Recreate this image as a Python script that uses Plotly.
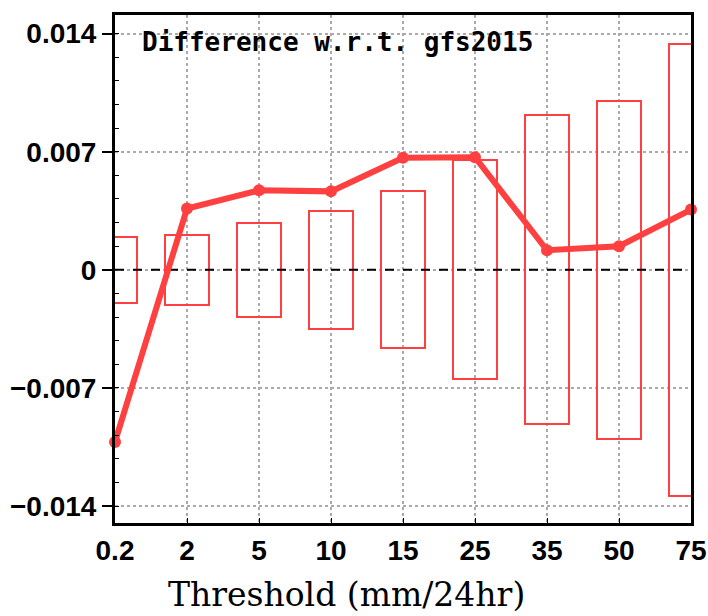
import plotly.graph_objects as go

# ---- data ----
thresholds = ["0.2", "2", "5", "10", "15", "25", "35", "50", "75"]
diff_values = [-0.0102, 0.00363, 0.00471, 0.00465, 0.00664, 0.00667, 0.00116, 0.0014, 0.00357]
ci_half_width = [0.00195, 0.00209, 0.0028, 0.00351, 0.00466, 0.00648, 0.00916, 0.01002, 0.01341]
y_tick_vals = [-0.014, -0.007, 0, 0.007, 0.014]
y_tick_text = ["\u22120.014", "\u22120.007", "0", "0.007", "0.014"]
title_text = "Difference w.r.t. gfs2015"
x_title = "Threshold (mm/24hr)"

x_idx = list(range(len(thresholds)))
RED = "rgb(255,64,64)"

fig = go.Figure()

# confidence boxes (hollow bars centered on zero)
fig.add_trace(go.Bar(
    x=x_idx,
    y=[2 * c for c in ci_half_width],
    base=[-c for c in ci_half_width],
    width=0.6,
    marker=dict(color="rgba(0,0,0,0)", line=dict(color=RED, width=2)),
    showlegend=False,
    hoverinfo="skip",
))

# zero dashed line
fig.add_trace(go.Scatter(
    x=[0, len(thresholds) - 1], y=[0, 0], mode="lines",
    line=dict(color="black", width=2, dash="dash"),
    showlegend=False, hoverinfo="skip",
))

# difference line
fig.add_trace(go.Scatter(
    x=x_idx, y=diff_values, mode="lines+markers",
    line=dict(color=RED, width=6),
    marker=dict(color=RED, size=12, symbol="circle"),
    showlegend=False, cliponaxis=False,
))

tickfont = dict(family="Liberation Sans", size=28, color="black", weight="bold")

fig.update_layout(
    width=708, height=616,
    margin=dict(l=115, r=17, t=15, b=93, autoexpand=False),
    paper_bgcolor="white", plot_bgcolor="white",
    bargap=0,
    xaxis=dict(
        range=[0, len(thresholds) - 1],
        tickvals=x_idx, ticktext=thresholds,
        tickfont=tickfont,
        showline=True, linecolor="black", linewidth=3, mirror=True,
        ticks="inside", ticklen=5, tickcolor="black", tickwidth=1,
        showgrid=True, gridcolor="#aaaaaa", griddash="dot", gridwidth=1.5,
        zeroline=False, automargin=False,
        ticklabelstandoff=0,
    ),
    yaxis=dict(
        range=[-0.0150, 0.0151],
        tickvals=y_tick_vals, ticktext=y_tick_text,
        tickfont=tickfont,
        showline=True, linecolor="black", linewidth=3, mirror=True,
        ticks="outside", ticklen=10, tickcolor="black", tickwidth=2,
        showgrid=True, gridcolor="#aaaaaa", griddash="dot", gridwidth=1.5,
        zeroline=False, automargin=False,
        minor=dict(dtick=0.0014, ticks="inside", ticklen=4, tickcolor="black", tickwidth=1, showgrid=False),
    ),
    annotations=[
        dict(
            text=title_text, xref="paper", yref="paper",
            x=(140 - 115) / 576, y=(523 - 42) / 508,
            xanchor="left", yanchor="middle", showarrow=False,
            font=dict(family="DejaVu Sans Mono", size=26, color="black", weight="bold"),
        ),
        dict(
            text=x_title, xref="paper", yref="paper",
            x=(346 - 115) / 576, y=(523 - 594) / 508,
            xanchor="center", yanchor="middle", showarrow=False,
            font=dict(family="DejaVu Serif", size=33, color="black"),
        ),
    ],
)

fig.write_html("out.html")
